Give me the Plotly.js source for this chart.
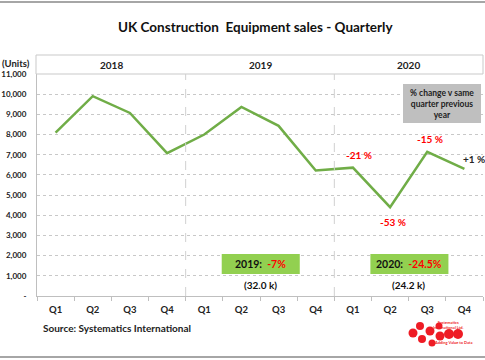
<!DOCTYPE html>
<html>
<head>
<meta charset="utf-8">
<script src="https://cdn.plot.ly/plotly-3.0.1.min.js"></script>
<style>html,body{margin:0;padding:0;background:#fff;}#chart{width:485px;height:360px;}</style>
</head>
<body>
<div id="chart"></div>
<script>
// ---- data ----
const quarterLabels = ['Q1','Q2','Q3','Q4','Q1','Q2','Q3','Q4','Q1','Q2','Q3','Q4'];
const years = ['2018','2019','2020'];
const sales = [8100, 9900, 9070, 7080, 8000, 9370, 8430, 6220, 6360, 4400, 7140, 6300];
const changeLabels = ['-21 %', '-53 %', '-15 %', '+1 %'];   // 2020 Q1..Q4 vs same quarter 2019
const changeColors = ['#ff0000', '#ff0000', '#ff0000', '#262626'];
const yearChange = [{year:'2019', pct:'-7%', total:'(32.0 k)'}, {year:'2020', pct:'-24.5%', total:'(24.2 k)'}];
const yTickVals = [0,1000,2000,3000,4000,5000,6000,7000,8000,9000,10000,11000];
const yTickText = ['-','1,000','2,000','3,000','4,000','5,000','6,000','7,000','8,000','9,000','10,000','11,000'];

// ---- layout helpers ----
const W = 485, H = 360, L = 37, R = 2, T = 74, B = 64;
const PW = W - L - R, PH = H - T - B;
const px = v => (v - L) / PW;
const py = v => (H - B - v) / PH;
const FONT = 'Lato, "Open Sans", sans-serif';

const xIdx = quarterLabels.map((_, i) => i);

const traces = [
  {x: xIdx, y: sales, type: 'scatter', mode: 'lines',
   line: {color: '#70ad47', width: 2.5}, hoverinfo: 'skip', showlegend: false},
  {x: [-0.5, 11.5], y: [0, 0], xaxis: 'x2', yaxis: 'y', type: 'scatter', mode: 'lines',
   line: {width: 0}, hoverinfo: 'skip', showlegend: false}
];

const shapes = [];
const annotations = [];
const ann = o => annotations.push(Object.assign({showarrow:false, xanchor:'center', yanchor:'middle'}, o));

// outer frame lines
shapes.push({type:'line', xref:'paper', yref:'paper', x0: px(0), x1: px(485), y0: py(2), y1: py(2), line:{color:'#a6a6a6', width:2}});
shapes.push({type:'line', xref:'paper', yref:'paper', x0: px(0), x1: px(485), y0: py(357), y1: py(357), line:{color:'#a6a6a6', width:2}});

// year header box
shapes.push({type:'rect', xref:'paper', yref:'paper', x0: px(36), x1: 1, y0: py(74), y1: py(55), line:{color:'#c9c9c9', width:1}, fillcolor:'rgba(0,0,0,0)'});
years.forEach((yr, i) => {
  ann({xref:'x', yref:'paper', x: i*4 + 1.5, y: py(65), text: '<b>' + yr + '</b>',
    font:{family: FONT, size: 10, color:'#222'}});
  if (i > 0) {
    shapes.push({type:'line', xref:'x', yref:'paper', x0: i*4 - 0.5, x1: i*4 - 0.5, y0: 0, y1: 1,
      line:{color:'#d0d0d0', width:1, dash:'dash'}});
  }
});

// title & units
ann({xref:'paper', yref:'paper', x: px(255), y: py(27), text:'<b>UK Construction  Equipment sales - Quarterly</b>',
  font:{family: FONT, size: 13.5, color:'#111'}});
ann({xref:'paper', yref:'paper', x: px(0), y: py(63), xanchor:'left', text:'<b>(Units)</b>',
  font:{family: FONT, size: 9.5, color:'#222'}});

// % change box
shapes.push({type:'rect', xref:'paper', yref:'paper', x0: px(403), x1: px(481), y0: py(123), y1: py(84), line:{width:0}, fillcolor:'#bfbfbf'});
ann({xref:'paper', yref:'paper', x: px(442), y: py(103.5), text:'<b>% change v same<br>quarter previous<br>year</b>',
  font:{family: FONT, size: 8.5, color:'#222'}});

// percentage labels on 2020 points
const labelOffsets = [[6, 5, 'bottom'], [3, -7, 'top'], [3, 5, 'bottom'], [10, 2, 'bottom']];
changeLabels.forEach((t, k) => {
  const i = 8 + k;
  const o = labelOffsets[k];
  ann({xref:'x', yref:'y', x: i, y: sales[i], text: '<b>' + t + '</b>',
    xshift: o[0], yshift: o[1], yanchor: o[2], font:{family: FONT, size: 10, color: changeColors[k]}});
});

// year change boxes
yearChange.forEach((yc, k) => {
  const cx = (k + 1) * 4 + 1.5;
  shapes.push({type:'rect', xref:'x', yref:'paper', x0: cx - 1.03, x1: cx + 1.07, y0: py(274), y1: py(254), line:{width:0}, fillcolor:'#92d050'});
  ann({xref:'x', yref:'paper', x: cx, y: py(264),
    text: '<b>' + yc.year + ':  <span style="color:#ff0000">' + yc.pct + '</span></b>',
    font:{family: FONT, size: 10.5, color:'#111'}});
  ann({xref:'x', yref:'paper', x: cx, y: py(285),
    text: '<b>' + yc.total + '</b>', font:{family: FONT, size: 10, color:'#111'}});
});

// source
ann({xref:'paper', yref:'paper', x: px(41), y: py(328), xanchor:'left',
  text:'<b>Source: Systematics International</b>', font:{family: FONT, size: 10, color:'#222'}});

// logo (decorative)
const logoDots = [[413,333,4.5],[420,326,4],[422,339,4],[430,331,4.5],[432,343,3.5],[439,326,3.5],[440,336,4.5],[449,334,5],[458,334,5]];
logoDots.forEach(d => shapes.push({type:'circle', xref:'paper', yref:'paper', x0: px(d[0]-d[2]), x1: px(d[0]+d[2]), y0: py(d[1]+d[2]), y1: py(d[1]-d[2]), line:{width:0}, fillcolor:'#ee1c25'}));
ann({xref:'paper', yref:'paper', x: px(431), y: py(325), xanchor:'left',
  text:'<b>Systematics<br>International Ltd.</b>', font:{family: FONT, size: 4, color:'#ee1c25'}});
ann({xref:'paper', yref:'paper', x: px(432), y: py(342), xanchor:'left',
  text:'<b>Adding Value to Data</b>', font:{family: FONT, size: 4, color:'#ee1c25'}});

const layout = {
  width: W, height: H,
  margin: {l: L, r: R, t: T, b: B, pad: 0},
  paper_bgcolor: '#ffffff', plot_bgcolor: '#ffffff',
  showlegend: false,
  xaxis: {range: [-0.5, 11.5], tickvals: xIdx, ticktext: quarterLabels.map(q => '<b>' + q + '</b>'),
    ticks: '', showgrid: false, zeroline: false, showline: true, linecolor: '#bfbfbf', linewidth: 1,
    tickfont: {family: FONT, size: 9.5, color: '#222'}, ticklabelstandoff: 5, fixedrange: true},
  xaxis2: {range: [-0.5, 11.5], overlaying: 'x', anchor: 'y', side: 'bottom',
    tickvals: [-0.5,0.5,1.5,2.5,3.5,4.5,5.5,6.5,7.5,8.5,9.5,10.5,11.5], showticklabels: false,
    ticks: 'outside', ticklen: 4, tickcolor: '#bfbfbf', showgrid: false, zeroline: false, showline: false},
  yaxis: {range: [0, 11000], tickvals: yTickVals, ticktext: yTickText.map(t => '<b>' + t + '</b>'),
    showgrid: true, gridcolor: '#c8c8c8', griddash: 'dot', gridwidth: 1, zeroline: false,
    showline: true, linecolor: '#bfbfbf', linewidth: 1, ticks: '',
    tickfont: {family: FONT, size: 8, color: '#222'}, ticklabelstandoff: 8, fixedrange: true},
  shapes: shapes,
  annotations: annotations
};

Plotly.newPlot('chart', traces, layout, {displayModeBar: false, staticPlot: true});
</script>
</body>
</html>
